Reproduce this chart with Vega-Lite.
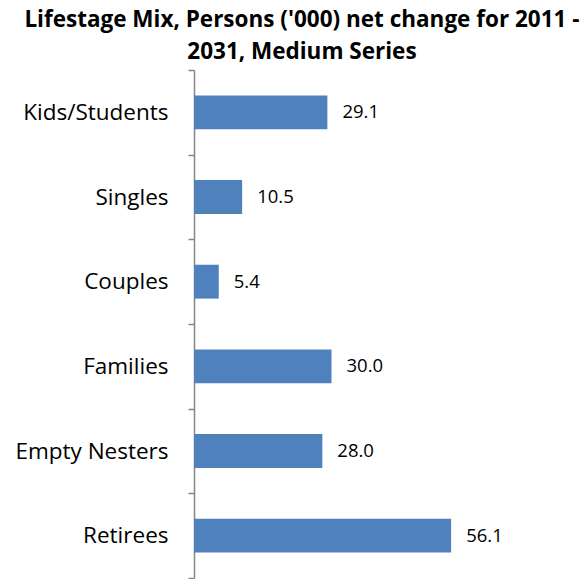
{
  "$schema": "https://vega.github.io/schema/vega-lite/v6.json",
  "autosize": "none",
  "width": 385,
  "height": 508,
  "padding": {"left": 194, "top": 70, "right": 8, "bottom": 1},
  "background": "white",
  "config": {"view": {"stroke": null}, "font": "Open Sans"},
  "title": {
    "text": ["Lifestage Mix, Persons ('000) net change for 2011 -", "2031, Medium Series"],
    "fontSize": 22.5,
    "fontWeight": "bold",
    "font": "Open Sans",
    "color": "black",
    "anchor": "middle",
    "frame": "bounds",
    "lineHeight": 32,
    "offset": -4,
    "dx": 5
  },
  "data": {
    "values": [
      {"stage": "Kids/Students", "value": 29.1},
      {"stage": "Singles", "value": 10.5},
      {"stage": "Couples", "value": 5.4},
      {"stage": "Families", "value": 30.0},
      {"stage": "Empty Nesters", "value": 28.0},
      {"stage": "Retirees", "value": 56.1}
    ]
  },
  "encoding": {
    "y": {
      "field": "stage",
      "type": "nominal",
      "sort": null,
      "scale": {"paddingInner": 0, "paddingOuter": 0},
      "axis": {
        "title": null,
        "ticks": true,
        "tickBand": "extent",
        "domainColor": "#868686",
        "tickColor": "#868686",
        "tickSize": 6,
        "tickWidth": 1.5,
        "domainWidth": 1.5,
        "labelPadding": 20,
        "labelFontSize": 22.5,
        "labelColor": "black",
        "labelFont": "Open Sans"
      }
    },
    "x": {
      "field": "value",
      "type": "quantitative",
      "scale": {"domain": [0, 84]},
      "axis": null
    }
  },
  "layer": [
    {"mark": {"type": "bar", "color": "#4F81BD", "height": {"band": 0.4}}},
    {
      "mark": {"type": "text", "align": "left", "baseline": "middle", "dx": 15, "fontSize": 18.5, "font": "Open Sans", "color": "black"},
      "encoding": {"text": {"field": "value", "type": "quantitative", "format": ".1f"}}
    }
  ]
}
